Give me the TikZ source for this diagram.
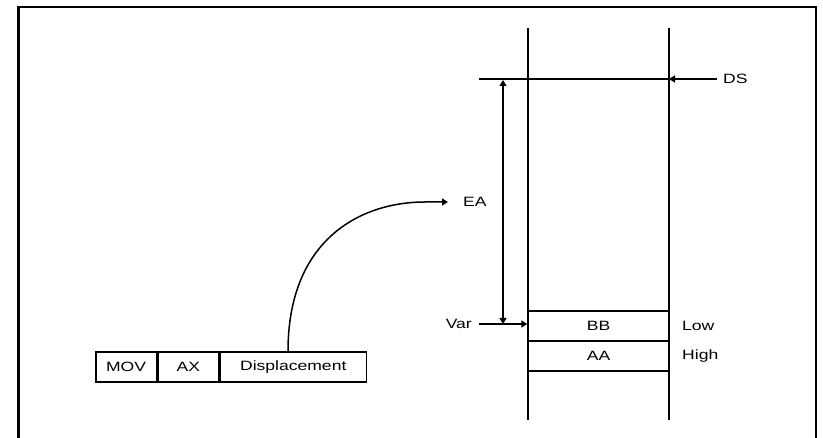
\documentclass[tikz,border=0pt]{standalone}
\usepackage{fontspec}
\setmainfont{Liberation Sans}[FakeStretch=1.3]
\usetikzlibrary{arrows.meta}
\begin{document}
\begin{tikzpicture}[x=1pt,y=-1pt,
  lbl/.style={inner sep=0pt,font=\fontsize{13.5}{15}\selectfont},
  cell/.style={draw,line width=1.5pt,minimum width=141pt,minimum height=30pt,inner sep=0pt,font=\fontsize{13.5}{15}\selectfont},
  field/.style={draw,line width=1.5pt,minimum height=30pt,inner sep=0pt,font=\fontsize{13.5}{15}\selectfont},
  thin/.style={line width=1.5pt},
  arr/.style={line width=1.5pt,-{Triangle[length=6pt,width=7pt]}},
  darr/.style={line width=1.2pt,{Triangle[length=6pt,width=7pt]}-{Triangle[length=6pt,width=7pt]}}]
\useasboundingbox (0,0) rectangle (823,438);
% frame
\draw[line width=2.5pt] (18.5,440) -- (18.5,7) -- (816,7) -- (816,440);
% memory columns
\coordinate (colLt) at (528,28); \coordinate (colLb) at (528,420);
\coordinate (colRt) at (669,28); \coordinate (colRb) at (669,420);
\draw[thin] (colLt) -- (colLb);
\draw[thin] (colRt) -- (colRb);
% cells
\node[cell] (BB) at (598.5,326) {BB};
\node[cell] (AA) at (598.5,356) {AA};
\node[lbl,anchor=west] (low) at (682,326) {Low};
\node[lbl,anchor=west] (high) at (682,356) {High};
% DS
\coordinate (dsL) at (479,79); \coordinate (dsR) at (669,79);
\draw[line width=2pt] (dsL) -- (dsR);
\node[lbl,anchor=west] (DS) at (723,79) {DS};
\draw[arr] ([xshift=-6pt]DS.west) -- (dsR);
% EA double arrow
\coordinate (eaTop) at (503,80); \coordinate (eaBot) at (503,324);
\draw[darr] (eaBot) -- (eaTop);
% Var
\node[lbl,anchor=east] (Var) at (472,324) {Var};
\draw[arr] ([xshift=7pt]Var.east) -- (BB.west |- Var.east);
% instruction
\node[field,minimum width=60.5pt] (mov) at (126,367) {MOV};
\node[field,minimum width=61pt,anchor=west] (ax) at (mov.east) {AX};
\node[field,minimum width=146pt,anchor=west] (disp) at (ax.east) {Displacement};
% EA label and curve
\node[lbl,anchor=west] (EA) at (463,202) {EA};
\draw[arr] (disp.north -| 288,0) .. controls (288,240) and (360,202) .. (425,202) -- ([xshift=-15pt]EA.west);
\end{tikzpicture}
\end{document}
